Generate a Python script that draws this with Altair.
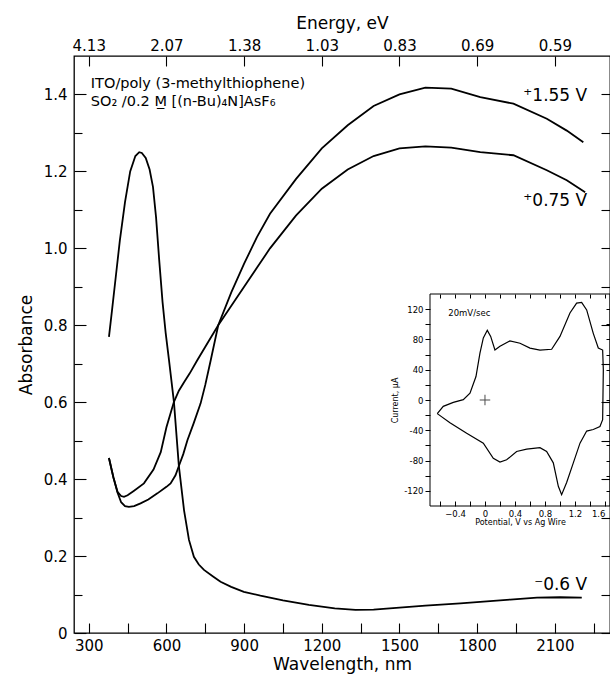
import altair as alt
import pandas as pd

# ---------------- main spectra (wavelength nm, absorbance) ----------------
wl_p155 = [378, 395, 411, 425, 440, 455, 475, 500, 530, 565, 600, 616, 635, 648, 665, 681, 705, 732, 750, 771,
           800, 850, 900, 950, 1000, 1100, 1200, 1300, 1400, 1500, 1600, 1700, 1812, 1940, 2069, 2146, 2210]
abs_p155 = [0.455, 0.405, 0.365, 0.340, 0.330, 0.328, 0.330, 0.337, 0.347, 0.363, 0.380, 0.389, 0.410, 0.434, 0.465,
            0.501, 0.545, 0.597, 0.645, 0.709, 0.800, 0.885, 0.960, 1.030, 1.090, 1.180, 1.260, 1.320, 1.370,
            1.400, 1.418, 1.415, 1.393, 1.376, 1.337, 1.306, 1.276]

wl_p075 = [378, 395, 411, 425, 436, 450, 475, 513, 550, 578, 600, 629, 648, 668, 690, 719, 760, 800, 850, 900,
           950, 1000, 1100, 1200, 1300, 1400, 1500, 1600, 1700, 1812, 1940, 2069, 2146, 2217]
abs_p075 = [0.455, 0.405, 0.367, 0.356, 0.354, 0.358, 0.370, 0.389, 0.425, 0.470, 0.535, 0.601, 0.630, 0.652,
            0.675, 0.709, 0.755, 0.800, 0.850, 0.900, 0.950, 1.000, 1.085, 1.155, 1.205, 1.240, 1.260, 1.265,
            1.262, 1.250, 1.242, 1.203, 1.177, 1.146]

wl_m06 = [378, 390, 405, 420, 440, 460, 480, 495, 505, 520, 535, 548, 560, 572, 585, 597, 610, 629, 648, 668,
          687, 706, 725, 745, 780, 809, 850, 899, 963, 1050, 1150, 1250, 1330, 1400, 1500, 1600, 1735, 1850,
          1928, 2031, 2120, 2204]
abs_m06 = [0.77, 0.84, 0.93, 1.02, 1.12, 1.20, 1.24, 1.25, 1.248, 1.235, 1.205, 1.16, 1.08, 0.97, 0.86, 0.78,
           0.709, 0.60, 0.434, 0.319, 0.242, 0.198, 0.178, 0.164, 0.147, 0.133, 0.12, 0.107, 0.097, 0.085,
           0.073, 0.064, 0.060, 0.061, 0.066, 0.071, 0.077, 0.083, 0.087, 0.092, 0.093, 0.092]

# ---------------- inset cyclic voltammogram (V vs Ag wire, current uA) ----------------
cv_v = [-0.636, -0.556, -0.422, -0.289, -0.2, -0.12, -0.067, -0.022, 0.031, 0.076, 0.133, 0.2, 0.333, 0.467,
        0.6, 0.733, 0.889, 1.0, 1.133, 1.222, 1.289, 1.356, 1.444, 1.511, 1.569, 1.578, 1.569, 1.533, 1.444,
        1.356, 1.267, 1.178, 1.089, 1.022, 0.978, 0.911, 0.822, 0.733, 0.556, 0.422, 0.289, 0.2, 0.111,
        -0.022, -0.244, -0.467, -0.636]
cv_i = [-18, -8.4, -3.1, 0.4, 9, 31, 62, 82, 92, 84, 66, 71, 78, 75, 68.6, 66, 67, 84, 115, 128, 129, 119, 88,
        68.6, 66, 40, -26, -35, -39, -41, -57, -83, -109, -125, -114, -83, -68, -63, -65, -68, -79, -82, -77,
        -57, -44, -30, -18]

# ---------------- axis ticks / labels ----------------
bottom_ticks = list(range(300, 2301, 150))
bottom_label_every = 300
left_major = [round(0.2 * k, 1) for k in range(8)]
left_minor = [round(0.1 + 0.2 * k, 1) for k in range(7)]
right_ticks = [round(0.1 * k, 1) for k in range(15)]
energy_pos = [300, 600, 900, 1200, 1500, 1800, 2100]
energy_labels = ["4.13", "2.07", "1.38", "1.03", "0.83", "0.69", "0.59"]
inset_x_ticks = [round(-0.6 + 0.2 * k, 1) for k in range(12)]
inset_y_ticks = list(range(-120, 121, 20))

# ---------------- annotations ----------------
ann_text = ["ITO/poly (3-methylthiophene)", "SO\u2082 /0.2 M\u0332 [(n-Bu)\u2084N]AsF\u2086"]
ann_wl = [308, 308]
ann_abs = [1.428, 1.381]
curve_lab = ["\u207a1.55 V", "\u207a0.75 V", "\u207b0.6 V"]
curve_lab_wl = [2225, 2225, 2225]
curve_lab_abs = [1.395, 1.122, 0.125]

FONT = "DejaVu Sans"

rows = []
for name, xs, ys in [("+1.55 V", wl_p155, abs_p155), ("+0.75 V", wl_p075, abs_p075), ("-0.6 V", wl_m06, abs_m06)]:
    for a, b in zip(xs, ys):
        rows.append({"series": name, "wl": a, "abs": b})
main_df = pd.DataFrame(rows)

x_scale = alt.Scale(domain=[243, 2313], nice=False, zero=False)
y_scale = alt.Scale(domain=[0, 1.5], nice=False, zero=False)

energy_expr = ("[" + ",".join("'%s'" % s for s in energy_labels) + "][indexof(["
               + ",".join(str(p) for p in energy_pos) + "], datum.value)]")

main_axis = dict(labelFont=FONT, titleFont=FONT, labelFontSize=15, titleFontSize=17, titleFontWeight="normal",
                 labelColor="black", titleColor="black", tickColor="black", tickWidth=1.1,
                 domain=False, grid=False)

lines = alt.Chart(main_df).mark_line(color="black", strokeWidth=1.8).encode(
    x=alt.X("wl:Q", scale=x_scale, axis=alt.Axis(
        orient="bottom", values=bottom_ticks, offset=-10, tickSize=10,
        labelExpr="datum.value %% %d == 0 ? datum.value : ''" % bottom_label_every,
        title="Wavelength, nm", labelPadding=5, titlePadding=3, **main_axis)),
    y=alt.Y("abs:Q", scale=y_scale, axis=alt.Axis(
        orient="left", values=left_major, offset=-12, tickSize=12,
        labelExpr="datum.value == 0 ? '0' : format(datum.value, '.1f')",
        title="Absorbance", labelPadding=7, titlePadding=8, **main_axis)),
    detail="series:N",
)

ghost = alt.Chart(main_df).mark_line(strokeOpacity=0).encode(
    x=alt.X("wl:Q", scale=x_scale, axis=alt.Axis(
        orient="top", values=energy_pos, offset=-10, tickSize=10,
        labelExpr=energy_expr, title="Energy, eV", labelPadding=3, titlePadding=6, **main_axis)),
    y=alt.Y("abs:Q", scale=y_scale, axis=alt.Axis(
        orient="right", values=right_ticks, offset=-9, tickSize=9,
        labels=False, title=None, **main_axis)),
    detail="series:N",
)

ann_df = pd.DataFrame({"t": ann_text, "wl": ann_wl, "abs": ann_abs})
ann = alt.Chart(ann_df).mark_text(align="left", baseline="middle", font=FONT, fontSize=14.5, color="black").encode(
    x=alt.X("wl:Q", scale=x_scale, axis=None),
    y=alt.Y("abs:Q", scale=y_scale, axis=alt.Axis(
        orient="left", values=left_minor, offset=-8, tickSize=8,
        labels=False, title=None, **main_axis)),
    text="t:N",
)

lab_df = pd.DataFrame({"t": curve_lab, "wl": curve_lab_wl, "abs": curve_lab_abs})
labs = alt.Chart(lab_df).mark_text(align="right", baseline="middle", font=FONT, fontSize=17, color="black").encode(
    x=alt.X("wl:Q", scale=x_scale, axis=None),
    y=alt.Y("abs:Q", scale=y_scale, axis=None),
    text="t:N",
)

main = alt.layer(lines, ghost, ann, labs).resolve_axis(x="independent", y="independent")

# ---------------- inset ----------------
ix_scale = alt.Scale(domain=[-0.733, 1.667], range=[356, 536], nice=False, zero=False)
iy_scale = alt.Scale(domain=[-140, 140], range=[450, 238], nice=False, zero=False)

inset_axis = dict(labelFont=FONT, titleFont=FONT, labelFontSize=8.5, titleFontSize=8, titleFontWeight="normal",
                  labelColor="black", titleColor="black", tickColor="black", tickWidth=1,
                  domain=False, grid=False)

cv_df = pd.DataFrame({"V": cv_v, "I": cv_i, "idx": list(range(len(cv_v)))})
cv = alt.Chart(cv_df).mark_line(color="black", strokeWidth=1.2).encode(
    x=alt.X("V:Q", scale=ix_scale, axis=alt.Axis(
        orient="bottom", values=inset_x_ticks, offset=-132, tickSize=5, labelFlush=8,
        labelExpr="round(datum.value*10) % 4 == 0 ? (datum.value == 0 ? '0' : format(datum.value, '.1f')) : ''",
        labelPadding=3, titlePadding=1, title="Potential, V vs Ag Wire", **inset_axis)),
    y=alt.Y("I:Q", scale=iy_scale, axis=alt.Axis(
        orient="left", values=inset_y_ticks, offset=-356, tickSize=5,
        labelExpr="datum.value % 40 == 0 ? datum.value : ''",
        labelPadding=2, titlePadding=4, title="Current, \u00b5A", **inset_axis)),
    order="idx:Q",
)

box_df = pd.DataFrame({"V": [-0.733], "V2": [1.667], "I": [-140], "I2": [140]})
box = alt.Chart(box_df).mark_rect(filled=False, stroke="black", strokeWidth=1).encode(
    x=alt.X("V:Q", scale=ix_scale, axis=alt.Axis(
        orient="top", values=inset_x_ticks, offset=-242, tickSize=4,
        labels=False, title=None, **inset_axis)),
    x2="V2:Q",
    y=alt.Y("I:Q", scale=iy_scale, axis=alt.Axis(
        orient="right", values=inset_y_ticks, offset=-4, tickSize=4,
        labels=False, title=None, **inset_axis)),
    y2="I2:Q",
)

cross_df = pd.DataFrame({"V": [0], "I": [0]})
cross = alt.Chart(cross_df).mark_point(shape="M-1,0L1,0M0,-1L0,1", size=110, color="black", filled=False,
                                       strokeWidth=1).encode(
    x=alt.X("V:Q", scale=ix_scale, axis=None),
    y=alt.Y("I:Q", scale=iy_scale, axis=None),
)

rate_df = pd.DataFrame({"t": ["20mV/sec"], "V": [-0.49], "I": [115]})
rate = alt.Chart(rate_df).mark_text(align="left", baseline="middle", font=FONT, fontSize=8.5, color="black").encode(
    x=alt.X("V:Q", scale=ix_scale, axis=None),
    y=alt.Y("I:Q", scale=iy_scale, axis=None),
    text="t:N",
)

inset = alt.layer(cv, box, cross, rate).resolve_axis(x="independent", y="independent")

chart = alt.layer(main, inset).resolve_scale(x="independent", y="independent").resolve_axis(
    x="independent", y="independent"
).properties(
    width=536, height=577,
    autosize=alt.AutoSizeParams(type="none"),
    padding={"left": 74, "top": 56, "right": 0, "bottom": 46},
    background="white",
).configure_view(stroke="black", strokeWidth=1.3)

chart.save("out.html", embed_options={"renderer": "svg", "actions": False})
